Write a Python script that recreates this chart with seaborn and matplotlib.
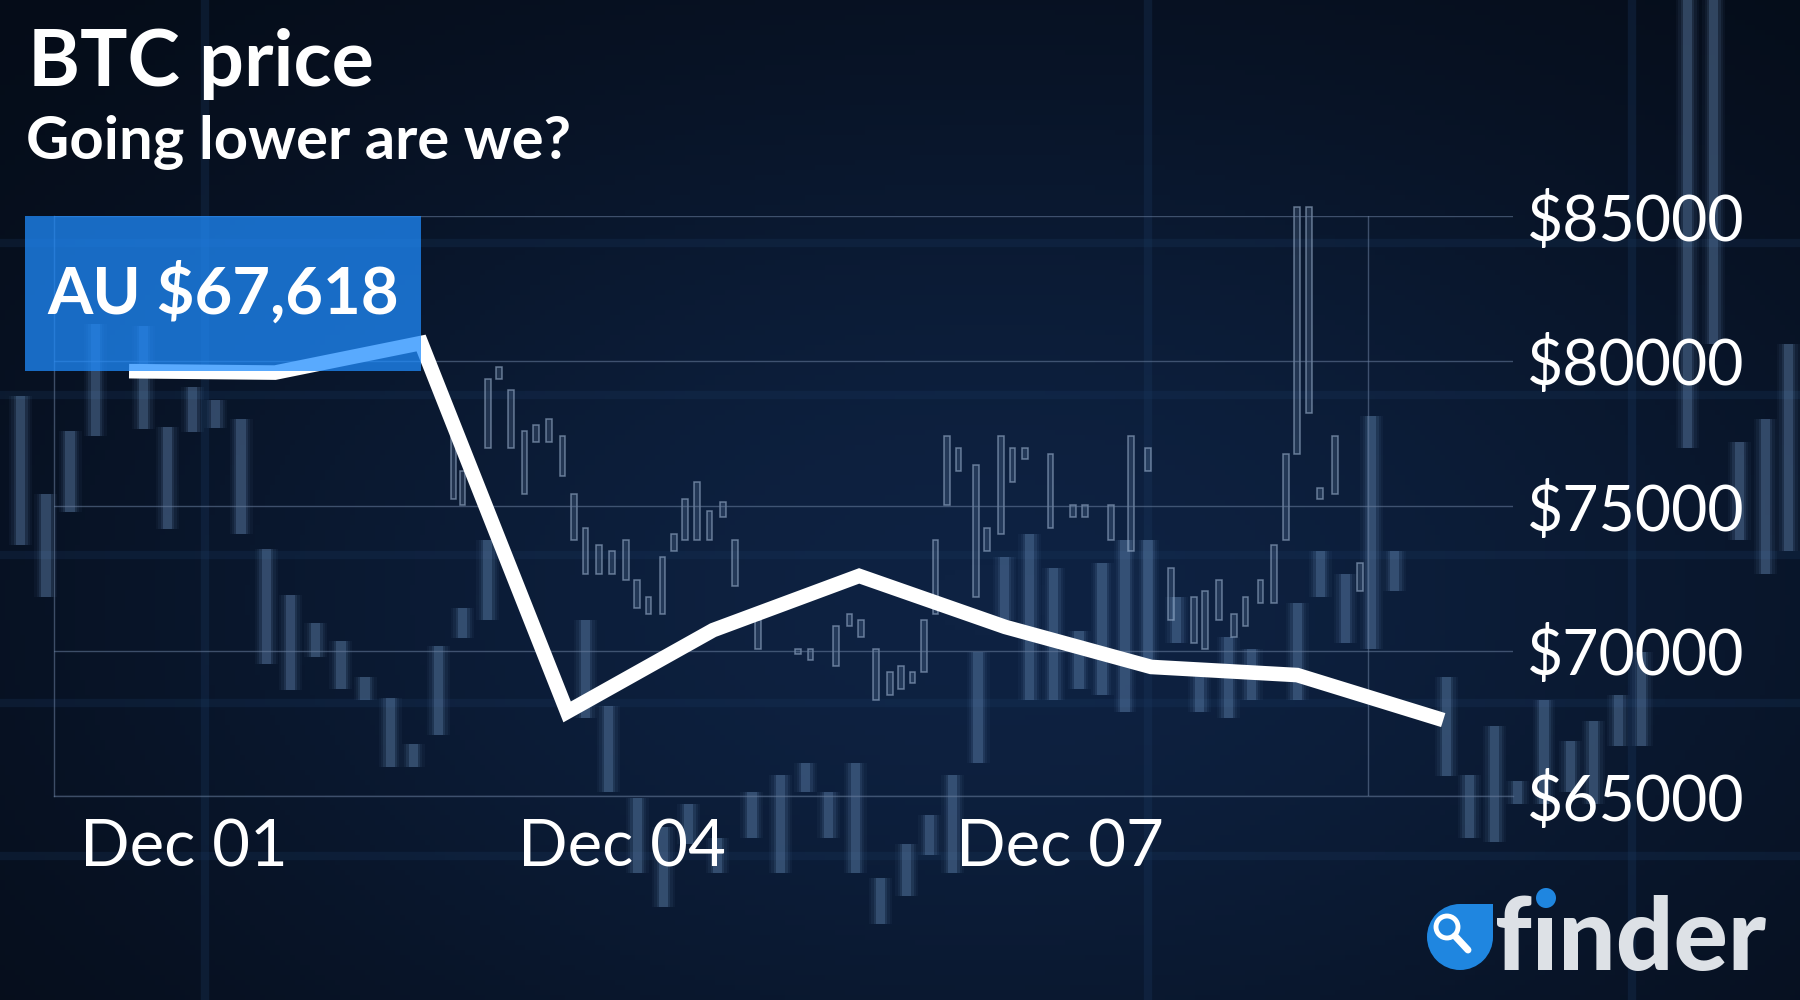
import numpy as np
import pandas as pd
import matplotlib.pyplot as plt
import matplotlib.dates as mdates
from matplotlib.colors import LinearSegmentedColormap
from matplotlib.patches import Rectangle, Circle
import seaborn as sns

# --- DATA ---
DATES = ["2021-11-30 15:00", "2021-12-01 15:00", "2021-12-02 15:00", "2021-12-03 15:00",
         "2021-12-04 15:00", "2021-12-05 15:00", "2021-12-06 15:00", "2021-12-07 15:00",
         "2021-12-08 15:00", "2021-12-09 15:00"]
PRICES = [79650, 79600, 80620, 67900, 70720, 72590, 70830, 69450, 69170, 67618]
Y_TICKS = [65000, 70000, 75000, 80000, 85000]
X_TICKS = ["2021-12-01", "2021-12-04", "2021-12-07"]
X_RANGE = ["2021-11-30 02:40", "2021-12-10 02:28"]
FRAME_RIGHT = "2021-12-09 02:40"

TITLE = "BTC price"
SUBTITLE = "Going lower are we?"
CURRENT = "AU $67,618"
BRAND = "f\u0131nder"

# background photo: blurred candles (x, top, bottom in picture units)
WIDE_X = [18, 40, 61, 83, 125, 146, 168, 188, 210, 232, 253, 275, 297, 318, 340, 360, 382, 403, 425,
          510, 530, 555, 578, 600, 625, 655, 680, 702, 722, 745, 767, 790, 810, 830, 852, 875, 897,
          918, 940, 960, 980, 1000, 1025, 1045, 1070, 1090, 1130, 1150, 1172,
          1195, 1215, 1260, 1280, 1302, 1322, 1345, 1368, 1388, 1410, 1430, 1470, 1493, 1515, 1538, 1558]
WIDE_TOP = [345, 430, 375, 282, 284, 372, 337, 348, 365, 478, 518, 543, 558, 590, 608, 648, 563, 530, 470,
            540, 615, 695, 720, 700, 730, 690, 675, 665, 690, 665, 765, 735, 710, 675, 568, 485, 465,
            495, 550, 490, 470, 470, 520, 580, 555, 565, 525, 480, 500,
            362, 480, 590, 675, 632, 680, 610, 645, 628, 605, 568, 0, 0, 385, 365, 300]
WIDE_BOT = [475, 520, 446, 380, 374, 461, 376, 373, 465, 578, 601, 572, 600, 610, 668, 668, 640, 556, 540,
            625, 690, 760, 790, 735, 760, 730, 760, 690, 730, 760, 805, 780, 745, 760, 665, 540, 610,
            610, 600, 605, 620, 580, 560, 620, 625, 610, 610, 520, 560,
            565, 515, 676, 730, 733, 700, 700, 690, 700, 650, 650, 390, 300, 470, 500, 480]

# background photo: sharp outlined candles
THIN_X = [395, 403, 425, 435, 445, 457, 467, 478, 490, 500, 510, 522, 533, 545, 555, 565, 577, 587,
          597, 607, 618, 630, 640, 660, 695, 706, 728, 740, 750, 763, 775, 785, 795, 805, 815, 825,
          835, 850, 860, 872, 882, 893, 915, 935, 945, 968, 985, 1000, 1020, 1040, 1050, 1062, 1075,
          1085, 1098, 1110, 1120, 1130, 1140, 1150, 1163, 1185]
THIN_TOP = [365, 410, 330, 320, 340, 375, 370, 365, 380, 430, 460, 475, 480, 470, 505, 520, 485, 465,
            435, 420, 445, 437, 470, 540, 565, 565, 545, 535, 540, 565, 585, 580, 585, 540, 470, 380,
            390, 405, 460, 380, 390, 390, 395, 440, 440, 440, 380, 390, 495, 520, 515, 505, 535,
            520, 505, 475, 395, 180, 180, 425, 380, 490]
THIN_BOT = [435, 440, 390, 330, 390, 430, 385, 385, 415, 470, 500, 500, 500, 505, 530, 535, 535, 480,
            470, 470, 470, 450, 510, 565, 570, 575, 580, 545, 555, 610, 605, 600, 595, 585, 535, 440,
            410, 520, 480, 465, 420, 400, 460, 450, 450, 470, 480, 410, 540, 560, 565, 540, 555,
            545, 525, 525, 470, 395, 360, 435, 430, 515]

BAND_Y = [212, 344, 483, 612, 746]
BAND_X = [179, 1000, 1422]

BG = "#0a1930"
GRID = "#6a7f9f"
BOX_BLUE = "#1f8cfe"

sns.set_style("dark")
plt.rcParams['font.family'] = ['Lato', 'DejaVu Sans']

fig = plt.figure(figsize=(18, 10), dpi=100)
fig.patch.set_facecolor(BG)

# --- background layer ---
bg = fig.add_axes([0, 0, 1, 1], zorder=-2)
bg.set_xlim(0, 1568)
bg.set_ylim(871, 0)
bg.set_axis_off()
yy, xx = np.mgrid[0:1:200j, 0:1:360j]
glow = np.exp(-((xx - 0.55) ** 2 / 0.3 + (yy - 0.6) ** 2 / 0.35))
bg_cmap = LinearSegmentedColormap.from_list("bg", ["#050c18", "#0e2242"])
bg.imshow(glow, extent=[0, 1568, 871, 0], cmap=bg_cmap, aspect="auto", zorder=0)
bg.hlines(BAND_Y, 0, 1568, color="#1b3960", lw=6, alpha=0.25, zorder=1)
bg.vlines(BAND_X, 0, 871, color="#1b3960", lw=6, alpha=0.3, zorder=1)

wide_h = np.subtract(WIDE_BOT, WIDE_TOP)
for w, a in [(20, 0.05), (16, 0.07), (12, 0.12), (8, 0.25)]:
    bg.bar(WIDE_X, wide_h, bottom=WIDE_TOP, width=w, color="#6f95c2", alpha=a, lw=0, zorder=2)
thin_h = np.subtract(THIN_BOT, THIN_TOP)
bg.bar(THIN_X, thin_h, bottom=THIN_TOP, width=5, facecolor="#7f9cc0", alpha=0.2, lw=0, zorder=3)
bg.bar(THIN_X, thin_h, bottom=THIN_TOP, width=5, facecolor="none", edgecolor="#a7bdd9",
       lw=1.1, alpha=0.55, zorder=3)

# --- main chart ---
df = pd.DataFrame({"date": pd.to_datetime(DATES), "price": PRICES})

ax = fig.add_axes([54 / 1800, 1 - 796 / 1000, (1513 - 54) / 1800, (796 - 216) / 1000])
ax.set_facecolor("none")
sns.lineplot(data=df, x="date", y="price", ax=ax, color="white", linewidth=10.5,
             solid_joinstyle="miter", solid_capstyle="butt", zorder=4)

ax.set_xlim(pd.to_datetime(X_RANGE[0]), pd.to_datetime(X_RANGE[1]))
ax.set_ylim(Y_TICKS[0], Y_TICKS[-1])
ax.set_xticks(pd.to_datetime(X_TICKS))
ax.xaxis.set_major_formatter(mdates.DateFormatter("%b %d"))
ax.yaxis.tick_right()
ax.set_yticks(Y_TICKS)
ax.set_yticklabels([f"${v}" for v in Y_TICKS])
ax.tick_params(axis="y", length=0, pad=10, labelsize=45, labelcolor="white")
ax.tick_params(axis="x", length=0, pad=16, labelsize=47, labelcolor="white")
ax.set_xlabel("")
ax.set_ylabel("")
ax.grid(axis="y", color=GRID, lw=1, alpha=0.55)
ax.grid(axis="x", visible=False)
ax.axvline(pd.to_datetime(FRAME_RIGHT), color=GRID, lw=1, alpha=0.55)
for side in ["top", "right"]:
    ax.spines[side].set_visible(False)
for side in ["left", "bottom"]:
    ax.spines[side].set_color(GRID)
    ax.spines[side].set_alpha(0.55)
    ax.spines[side].set_linewidth(1)

# --- overlay: titles, price box, logo (pixel units) ---
ov = fig.add_axes([0, 0, 1, 1], zorder=5)
ov.set_xlim(0, 1800)
ov.set_ylim(1000, 0)
ov.set_axis_off()

ov.text(28, 86, TITLE, va="baseline", ha="left", fontsize=57, weight="bold", color="white")
ov.text(26, 159, SUBTITLE, va="baseline", ha="left", fontsize=43, weight="bold", color="white")

ov.add_patch(Rectangle((25, 216), 396, 155, facecolor=BOX_BLUE, alpha=0.74, lw=0))
ov.text(223, 293, CURRENT, ha="center", va="center", fontsize=47, weight="bold", color="white")

ov.add_patch(Circle((1460, 937), 33, facecolor="#1f86e0", lw=0))
ov.add_patch(Rectangle((1460, 904), 33, 33, facecolor="#1f86e0", lw=0))
ov.add_patch(Circle((1447, 927), 11, facecolor="none", edgecolor="white", lw=3.5))
ov.plot([1455, 1468], [936, 950], color="white", lw=5, solid_capstyle="round")
ov.text(1495, 970, BRAND, ha="left", va="baseline", fontsize=73, weight="black", color="#dde1e6")
ov.add_patch(Circle((1546, 898), 10, facecolor="#1f86e0", lw=0))

fig.savefig("out.png", dpi=100, facecolor=fig.get_facecolor())
